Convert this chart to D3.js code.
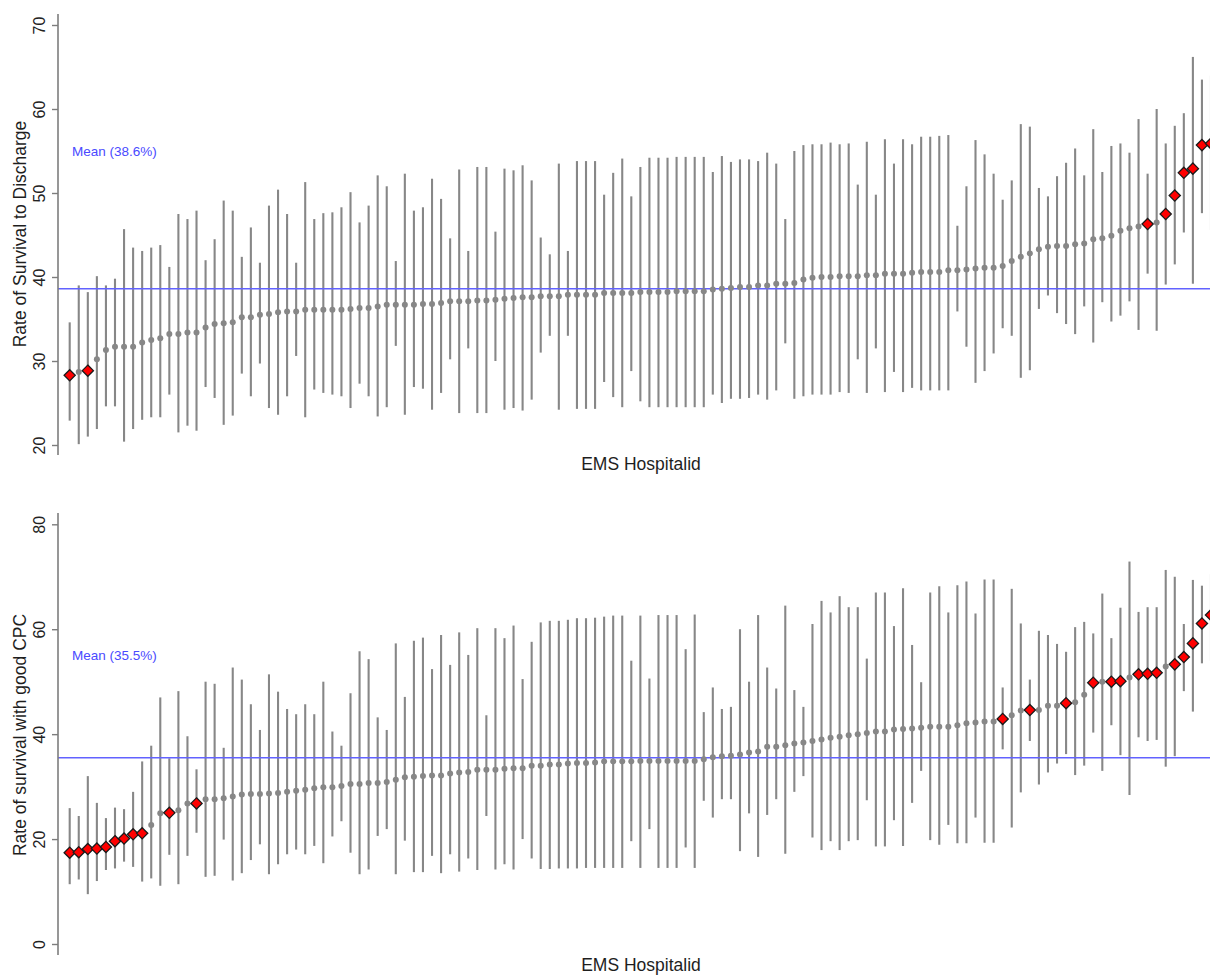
<!DOCTYPE html>
<html>
<head>
<meta charset="utf-8">
<script src="https://cdn.jsdelivr.net/npm/d3@7"></script>
<style>
  html, body { margin: 0; padding: 0; background: #fff; }
  svg { display: block; font-family: Arial, "Liberation Sans", sans-serif; }
</style>
</head>
<body>
<svg id="chart" width="1210" height="975"></svg>
<script>
// Hospitals ranked by their risk-adjusted rate (rank order along the x axis)
const hospitalRank = d3.range(1, 128);

// Panel 1: rate of survival to discharge (%)
const dischargeEst = [
  28.3, 28.7, 28.85, 30.2, 31.3, 31.7, 31.7, 31.7, 32.2, 32.5,
  32.7, 33.2, 33.2, 33.4, 33.4, 34.0, 34.4, 34.5, 34.6, 35.2,
  35.2, 35.5, 35.6, 35.8, 35.9, 35.9, 36.1, 36.1, 36.1, 36.1,
  36.1, 36.2, 36.3, 36.3, 36.5, 36.7, 36.7, 36.7, 36.7, 36.8,
  36.8, 36.9, 37.1, 37.1, 37.1, 37.2, 37.2, 37.3, 37.4, 37.5,
  37.6, 37.6, 37.7, 37.7, 37.7, 37.9, 37.9, 37.9, 37.9, 38.1,
  38.1, 38.1, 38.1, 38.2, 38.2, 38.2, 38.2, 38.3, 38.3, 38.3,
  38.3, 38.5, 38.6, 38.7, 38.8, 38.8, 39.0, 39.0, 39.2, 39.2,
  39.3, 39.7, 39.9, 40.0, 40.0, 40.1, 40.1, 40.1, 40.2, 40.2,
  40.4, 40.4, 40.4, 40.5, 40.6, 40.6, 40.6, 40.8, 40.8, 40.9,
  41.0, 41.1, 41.1, 41.3, 41.9, 42.4, 42.8, 43.3, 43.6, 43.7,
  43.7, 43.9, 44.0, 44.5, 44.6, 44.9, 45.5, 45.8, 46.0, 46.3,
  46.5, 47.5, 49.7, 52.4, 52.9, 55.7, 55.9
];
const dischargeLow = [
  22.9, 20.1, 21.0, 21.9, 24.6, 24.6, 20.4, 21.9, 23.0, 23.3,
  23.3, 26.0, 21.5, 22.3, 21.7, 26.9, 25.6, 22.4, 23.5, 28.5,
  25.8, 29.7, 24.4, 23.6, 25.8, 30.6, 23.3, 26.6, 26.2, 26.0,
  25.8, 24.4, 27.3, 25.8, 23.4, 24.5, 31.8, 23.6, 26.9, 26.7,
  24.2, 26.2, 30.2, 23.8, 31.5, 23.8, 23.8, 30.0, 24.2, 24.4,
  24.1, 25.4, 31.0, 33.0, 24.2, 33.0, 24.3, 24.3, 24.3, 27.5,
  25.7, 24.5, 28.8, 25.2, 24.5, 24.5, 24.5, 24.5, 24.5, 24.5,
  24.5, 26.0, 25.0, 25.5, 25.5, 25.6, 26.0, 25.4, 26.5, 32.1,
  25.5, 25.8, 26.0, 26.0, 26.0, 26.3, 26.2, 30.2, 26.2, 31.5,
  26.3, 28.7, 26.3, 26.8, 26.5, 26.5, 26.5, 26.5, 35.9, 31.7,
  27.4, 28.8, 30.9, 33.9, 33.0, 28.0, 28.9, 36.2, 37.8, 35.7,
  34.4, 33.2, 36.5, 32.2, 37.0, 34.7, 35.4, 37.1, 33.7, 40.4,
  33.6, 39.1, 41.5, 45.3, 39.2, 47.6, 45.6
];
const dischargeHigh = [
  34.6, 39.0, 38.2, 40.1, 39.0, 39.8, 45.7, 43.5, 43.1, 43.5,
  43.8, 41.2, 47.5, 46.9, 47.9, 42.0, 44.5, 49.1, 47.9, 42.4,
  45.9, 41.7, 48.5, 50.4, 47.5, 41.7, 51.3, 46.9, 47.6, 47.7,
  48.3, 50.1, 46.5, 48.5, 52.1, 50.8, 41.9, 52.3, 47.9, 48.3,
  51.7, 49.3, 44.6, 52.8, 43.1, 53.1, 53.1, 45.4, 52.9, 52.7,
  53.3, 51.5, 44.7, 42.7, 53.5, 43.1, 53.8, 53.8, 53.8, 49.8,
  52.4, 54.1, 49.6, 53.1, 54.2, 54.2, 54.2, 54.3, 54.3, 54.3,
  54.3, 52.5, 54.4, 53.7, 54.0, 54.0, 53.8, 54.8, 53.5, 46.9,
  55.0, 55.7, 55.8, 55.8, 56.0, 55.8, 55.9, 51.0, 56.1, 49.8,
  56.4, 53.5, 56.4, 55.8, 56.7, 56.7, 56.8, 56.9, 46.1, 50.8,
  56.3, 54.6, 52.3, 49.2, 51.5, 58.2, 57.9, 50.6, 49.6, 52.0,
  53.6, 55.3, 52.1, 57.6, 52.5, 55.6, 55.9, 54.8, 58.8, 52.3,
  60.0, 55.9, 58.0, 59.5, 66.2, 63.5, 64.0
];
// Hospitals whose interval excludes the mean (drawn as red diamonds)
const dischargeOutliers = [0, 2, 119, 121, 122, 123, 124, 125, 126];
const dischargeMean = 38.6;
const dischargeTicks = [20, 30, 40, 50, 60, 70];

// Panel 2: rate of survival with good CPC (%)
const cpcEst = [
  17.4, 17.5, 18.1, 18.2, 18.5, 19.6, 20.1, 20.9, 21.1, 22.7,
  24.9, 25.0, 25.5, 26.8, 26.8, 27.6, 27.6, 27.8, 28.1, 28.5,
  28.6, 28.6, 28.7, 28.8, 29.0, 29.2, 29.4, 29.7, 29.9, 29.9,
  30.1, 30.5, 30.5, 30.7, 30.7, 30.9, 31.3, 31.8, 31.9, 32.0,
  32.1, 32.1, 32.5, 32.7, 32.8, 33.2, 33.2, 33.2, 33.4, 33.5,
  33.5, 34.0, 34.0, 34.2, 34.2, 34.4, 34.5, 34.5, 34.6, 34.8,
  34.8, 34.8, 34.8, 34.9, 34.9, 34.9, 34.9, 34.9, 34.9, 34.9,
  35.2, 35.6, 35.8, 35.9, 36.1, 36.5, 36.7, 37.6, 37.6, 37.9,
  38.2, 38.4, 38.7, 39.0, 39.3, 39.5, 39.8, 40.0, 40.2, 40.5,
  40.5, 40.9, 41.0, 41.1, 41.2, 41.4, 41.4, 41.4, 41.7, 42.1,
  42.2, 42.4, 42.4, 42.9, 43.6, 44.5, 44.6, 44.6, 45.4, 45.4,
  45.9, 46.1, 47.5, 49.8, 50.0, 50.0, 50.1, 50.8, 51.4, 51.5,
  51.7, 52.9, 53.3, 54.7, 57.3, 61.1, 62.7
];
const cpcLow = [
  11.4, 12.3, 9.5, 12.0, 14.1, 14.4, 15.7, 14.7, 11.9, 12.5,
  11.1, 17.0, 11.4, 16.8, 21.2, 12.8, 13.0, 19.9, 12.1, 13.5,
  16.0, 19.0, 13.3, 15.2, 17.1, 18.0, 17.1, 18.7, 15.4, 20.5,
  23.4, 17.4, 13.3, 14.2, 20.6, 21.9, 13.3, 19.7, 13.7, 13.7,
  16.8, 13.5, 17.1, 13.8, 16.3, 14.1, 24.4, 14.2, 15.2, 14.2,
  20.0, 16.3, 14.3, 14.3, 14.4, 14.4, 14.4, 14.5, 14.5, 14.5,
  14.5, 14.5, 19.6, 14.5, 21.9, 14.5, 14.5, 14.5, 18.4, 14.5,
  27.3, 24.1, 27.6, 27.6, 17.7, 24.9, 16.6, 24.6, 27.6, 17.2,
  29.0, 32.0, 20.3, 17.9, 19.6, 17.9, 19.6, 19.8, 27.4, 18.6,
  18.6, 23.6, 18.7, 26.9, 33.0, 19.8, 18.9, 22.7, 19.2, 19.2,
  24.1, 19.3, 19.3, 37.1, 22.2, 28.9, 38.7, 30.4, 32.7, 34.4,
  36.2, 32.2, 34.0, 40.3, 33.0, 41.7, 36.0, 28.4, 39.4, 38.7,
  38.9, 33.8, 35.8, 48.2, 44.3, 53.5, 54.0
];
const cpcHigh = [
  25.9, 24.4, 32.0, 26.9, 24.0, 26.0, 25.7, 29.0, 34.8, 37.8,
  47.0, 35.4, 48.2, 39.6, 33.3, 50.0, 49.6, 37.4, 52.7, 50.4,
  45.7, 40.8, 51.4, 48.1, 44.8, 43.8, 45.7, 43.8, 50.0, 40.5,
  37.8, 47.8, 55.8, 54.3, 43.2, 40.8, 57.3, 47.1, 57.8, 58.4,
  52.4, 58.9, 53.2, 59.4, 55.1, 60.2, 43.6, 60.2, 58.3, 60.7,
  50.5, 57.6, 61.3, 61.6, 61.6, 61.8, 62.1, 62.1, 62.2, 62.4,
  62.6, 62.6, 54.0, 62.6, 50.6, 62.7, 62.7, 62.7, 56.2, 62.8,
  44.2, 48.9, 44.8, 45.2, 60.0, 50.0, 62.7, 52.7, 48.7, 64.5,
  48.4, 45.2, 61.0, 65.4, 63.2, 66.3, 64.2, 64.2, 54.4, 67.0,
  67.0, 60.6, 67.8, 57.0, 49.9, 67.0, 68.2, 63.2, 68.4, 69.1,
  63.0, 69.5, 69.5, 48.9, 67.7, 61.1, 50.4, 59.7, 58.9, 57.2,
  55.7, 60.4, 61.4, 59.2, 66.8, 58.3, 64.1, 72.9, 63.3, 64.2,
  64.2, 71.3, 70.0, 61.0, 69.4, 68.3, 70.5
];
const cpcOutliers = [0, 1, 2, 3, 4, 5, 6, 7, 8, 11, 14, 103, 106, 110, 113,
                     115, 116, 118, 119, 120, 122, 123, 124, 125, 126];
const cpcMean = 35.5;
const cpcTicks = [0, 20, 40, 60, 80];

const xTitle = "EMS Hospitalid";

// ---------------------------------------------------------------
const svg = d3.select("#chart");
const GRAY = "#878787";
const AXIS = "#7d7d7d";
const BLUE_LINE = "#6262ff";
const BLUE_TEXT = "#4a4aff";

const x = d3.scaleLinear()
  .domain([0, hospitalRank.length - 1])
  .range([69.7, 69.7 + 9.058 * (hospitalRank.length - 1)]);

const AXIS_X = 58;

function drawPanel(p) {
  const g = svg.append("g");
  const y = d3.scaleLinear().domain(p.domain).range(p.range);
  const rows = hospitalRank.map((r, i) => ({
    i, est: p.est[i], lo: p.lo[i], hi: p.hi[i]
  }));
  const flagged = new Set(p.outliers);

  // Confidence interval stalks
  g.append("g").selectAll("line")
    .data(rows).join("line")
    .attr("x1", d => x(d.i)).attr("x2", d => x(d.i))
    .attr("y1", d => y(d.lo)).attr("y2", d => y(d.hi))
    .attr("stroke", GRAY).attr("stroke-width", 2.1);

  // Mean reference line
  g.append("line")
    .attr("x1", AXIS_X).attr("x2", 1210)
    .attr("y1", y(p.mean)).attr("y2", y(p.mean))
    .attr("stroke", BLUE_LINE).attr("stroke-width", 1.4);

  g.append("text")
    .attr("x", 72).attr("y", y(55) + 5)
    .attr("fill", BLUE_TEXT)
    .attr("font-size", 13.5)
    .text(`Mean (${p.mean.toFixed(1)}%)`);

  // Point estimates
  g.append("g").selectAll("circle")
    .data(rows.filter(d => !flagged.has(d.i))).join("circle")
    .attr("cx", d => x(d.i)).attr("cy", d => y(d.est))
    .attr("r", 3).attr("fill", GRAY);

  const diamond = "M0,-5.6L5.6,0L0,5.6L-5.6,0Z";
  g.append("g").selectAll("path")
    .data(rows.filter(d => flagged.has(d.i))).join("path")
    .attr("d", diamond)
    .attr("transform", d => `translate(${x(d.i)},${y(d.est)})`)
    .attr("fill", "#ff0000").attr("stroke", "#1a1a1a").attr("stroke-width", 1.3);

  // Y axis
  const ax = g.append("g")
    .attr("transform", `translate(${AXIS_X},0)`)
    .call(d3.axisLeft(y).tickValues(p.ticks).tickSize(6).tickSizeOuter(0));
  ax.select(".domain").remove();
  ax.append("line")
    .attr("x1", 0).attr("x2", 0)
    .attr("y1", p.axisTop).attr("y2", p.axisBottom)
    .attr("stroke", AXIS).attr("stroke-width", 1.6);
  ax.selectAll(".tick line").attr("stroke", AXIS).attr("stroke-width", 1.4);
  ax.selectAll(".tick text")
    .attr("x", null).attr("dy", null)
    .attr("transform", "translate(-13,0) rotate(-90)")
    .attr("text-anchor", "middle")
    .attr("fill", "#222")
    .attr("font-size", 16)
    .attr("font-family", "Arial, 'Liberation Sans', sans-serif");

  // Axis titles
  const yMid = (p.axisTop + p.axisBottom) / 2 + p.titleShift;
  g.append("text")
    .attr("transform", `translate(25.5,${yMid}) rotate(-90)`)
    .attr("text-anchor", "middle")
    .attr("font-size", 17.5)
    .attr("fill", "#1e1e1e")
    .text(p.title);

  g.append("text")
    .attr("x", 641).attr("y", p.xTitleY)
    .attr("text-anchor", "middle")
    .attr("font-size", 17.5)
    .attr("fill", "#1e1e1e")
    .text(xTitle);
}

drawPanel({
  est: dischargeEst, lo: dischargeLow, hi: dischargeHigh,
  outliers: dischargeOutliers, mean: dischargeMean,
  domain: [20, 70], range: [445, 25], ticks: dischargeTicks,
  axisTop: 14, axisBottom: 455, titleShift: -0.5,
  title: "Rate of Survival to Discharge", xTitleY: 469.5
});

drawPanel({
  est: cpcEst, lo: cpcLow, hi: cpcHigh,
  outliers: cpcOutliers, mean: cpcMean,
  domain: [0, 80], range: [944, 524.3], ticks: cpcTicks,
  axisTop: 513, axisBottom: 955, titleShift: 1,
  title: "Rate of survival with good CPC", xTitleY: 971
});
</script>
</body>
</html>
